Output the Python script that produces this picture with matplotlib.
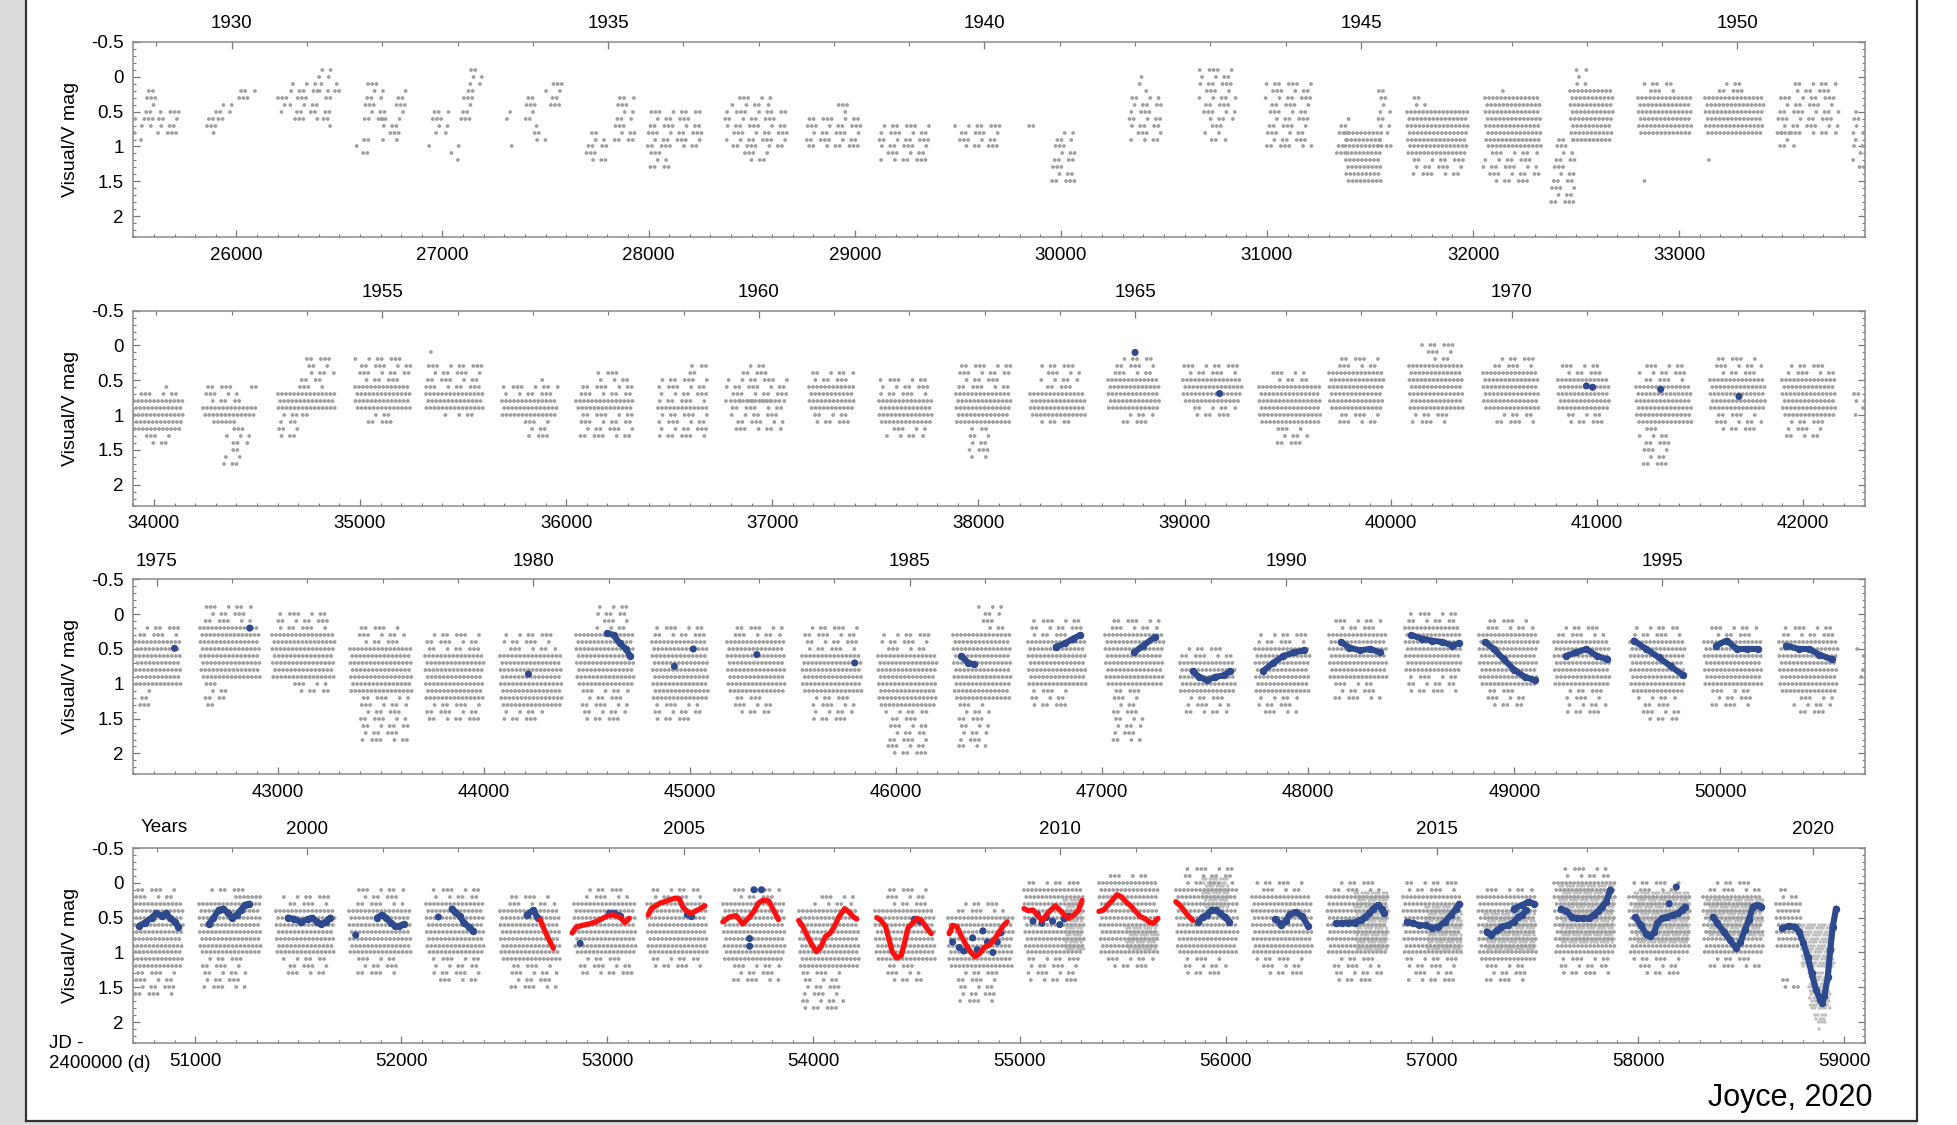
import datetime as dt
import matplotlib
matplotlib.use("Agg")
import matplotlib.pyplot as plt
from matplotlib.ticker import MultipleLocator, FixedLocator
from matplotlib.patches import Rectangle
from matplotlib.lines import Line2D

plt.rcParams.update({
    "font.family": ["Liberation Sans", "DejaVu Sans"],
    "font.size": 13.5,
    "lines.scale_dashes": False,
})

GRAY = "#a0a0a0"
LIGHT = "#c0c0c0"
BLUE = "#2e4a8e"
RED = "#ff1010"

# JD - 2400000 range of each row
PANELS = [(25500, 33900), (33900, 42300), (42300, 50700), (50700, 59100)]

# visual estimates, grouped as (jd start, jd end, brightest row, faintest row, kind)
# kind: 'd' dense rows, 's' sparse rows, 'h' heavy light-gray cloud
GRAY_P1 = [
    (25505, 25545, 0.6, 0.9, 's'), (25545, 25620, 0.2, 0.7, 's'), (25620, 25730, 0.5, 0.8, 's'),
    (25840, 25900, 0.5, 0.8, 's'), (25900, 25990, 0.4, 0.6, 's'), (25990, 26100, 0.2, 0.3, 's'),
    (26204, 26260, 0.3, 0.5, 's'), (26260, 26400, 0.1, 0.6, 's'), (26400, 26460, -0.1, 0.7, 's'),
    (26460, 26503, 0.1, 0.2, 's'),
    (26579, 26650, 0.9, 1.1, 's'), (26620, 26720, 0.1, 0.6, 's'), (26700, 26800, 0.6, 0.9, 's'),
    (26760, 26833, 0.2, 0.5, 's'),
    (26915, 26940, 0.9, 1.1, 's'), (26950, 27030, 0.5, 0.8, 's'), (27040, 27090, 1.0, 1.2, 's'),
    (27090, 27160, 0.3, 0.6, 's'), (27120, 27190, -0.1, 0.2, 's'),
    (27306, 27350, 0.5, 0.6, 's'), (27330, 27340, 1.0, 1.0, 's'), (27400, 27460, 0.3, 0.6, 's'),
    (27440, 27500, 0.7, 0.9, 's'), (27500, 27590, 0.1, 0.4, 's'),
    (27685, 27800, 0.9, 1.2, 's'), (27720, 27760, 0.7, 0.8, 's'), (27830, 27935, 0.3, 0.9, 's'),
    (27990, 28260, 0.5, 1.0, 's'), (27990, 28100, 1.1, 1.3, 's'),
    (28370, 28670, 0.5, 1.0, 's'), (28400, 28600, 0.3, 0.4, 's'), (28450, 28600, 1.1, 1.2, 's'),
    (28760, 29030, 0.6, 1.0, 's'), (28900, 28990, 0.4, 0.5, 's'),
    (29120, 29360, 0.7, 1.2, 's'),
    (29480, 29720, 0.7, 1.0, 's'),
    (29830, 29870, 0.7, 0.7, 's'), (29950, 30070, 0.8, 1.5, 's'),
    (30330, 30490, 0.3, 0.9, 's'), (30380, 30420, 0.0, 0.2, 's'),
    (30670, 30850, -0.1, 0.6, 's'), (30700, 30800, 0.7, 0.9, 's'), (30750, 30760, -0.2, -0.2, 's'),
    (30990, 31220, 0.1, 1.0, 's'),
    (31333, 31400, 0.6, 1.1, 's'), (31380, 31560, 0.8, 1.5, 'd'), (31540, 31600, 0.2, 1.0, 's'),
    (31680, 31975, 0.5, 1.1, 'd'), (31700, 31780, 0.3, 0.4, 's'), (31700, 31970, 1.2, 1.4, 's'),
    (32060, 32330, 0.3, 1.0, 'd'), (32050, 32320, 1.1, 1.5, 's'), (32140, 32160, 0.2, 0.2, 's'),
    (32470, 32680, 0.2, 0.9, 'd'), (32500, 32560, -0.1, 0.1, 's'), (32560, 32570, -0.2, -0.2, 's'),
    (32380, 32500, 0.9, 1.8, 's'),
    (32800, 33063, 0.3, 0.8, 'd'), (32830, 32980, 0.1, 0.2, 's'), (32830, 32850, 1.5, 1.5, 's'),
    (33124, 33410, 0.3, 0.8, 'd'), (33180, 33320, 0.1, 0.2, 's'), (33140, 33150, 1.2, 1.2, 's'),
    (33470, 33776, 0.3, 0.8, 's'), (33560, 33770, 0.1, 0.2, 's'), (33470, 33560, 0.8, 1.0, 's'),
    (33836, 33897, 0.5, 1.3, 's'),
]

GRAY_P2 = [
    (33903, 34141, 0.8, 1.2, 'd'), (33903, 34141, 0.7, 0.7, 's'), (33950, 34100, 1.3, 1.4, 's'),
    (34060, 34110, 0.6, 0.6, 's'), (33905, 33920, 0.5, 0.5, 's'),
    (34240, 34500, 0.9, 1.0, 'd'), (34240, 34420, 0.6, 0.8, 's'), (34290, 34400, 1.1, 1.1, 'd'),
    (34350, 34470, 1.2, 1.4, 's'), (34340, 34420, 1.5, 1.7, 's'), (34470, 34500, 0.6, 0.6, 's'),
    (34600, 34877, 0.7, 0.9, 'd'), (34600, 34700, 1.0, 1.3, 's'), (34690, 34820, 0.5, 0.6, 's'),
    (34740, 34877, 0.2, 0.4, 's'), (34700, 34780, 1.0, 1.0, 's'),
    (34975, 35245, 0.6, 0.9, 'd'), (34975, 35245, 0.2, 0.5, 's'), (35040, 35180, 1.0, 1.1, 's'),
    (35321, 35603, 0.7, 0.9, 'd'), (35321, 35603, 0.3, 0.6, 's'), (35340, 35360, 0.1, 0.2, 's'),
    (35400, 35560, 1.0, 1.0, 's'), (35470, 35490, 1.5, 1.5, 's'),
    (35690, 35960, 0.8, 1.0, 'd'), (35690, 35960, 0.6, 0.7, 's'), (35800, 35940, 1.1, 1.3, 's'),
    (35880, 35900, 0.5, 0.5, 's'),
    (36047, 36328, 0.8, 0.9, 'd'), (36047, 36328, 0.6, 0.7, 's'), (36047, 36328, 1.0, 1.3, 's'),
    (36150, 36300, 0.4, 0.5, 's'),
    (36447, 36700, 0.9, 0.9, 'd'), (36447, 36700, 0.5, 0.8, 's'), (36447, 36700, 1.0, 1.3, 's'),
    (36600, 36680, 0.3, 0.4, 's'),
    (36770, 37070, 0.5, 0.9, 's'), (36800, 37050, 0.8, 0.8, 'd'), (36850, 37000, 0.3, 0.4, 's'),
    (36800, 37050, 1.0, 1.2, 's'),
    (37180, 37400, 0.6, 0.9, 'd'), (37180, 37400, 0.4, 0.5, 's'), (37200, 37380, 1.0, 1.1, 's'),
    (37520, 37780, 0.8, 1.1, 'd'), (37520, 37780, 0.5, 0.7, 's'), (37550, 37750, 1.2, 1.3, 's'),
    (37890, 38160, 0.7, 1.1, 'd'), (37890, 38160, 0.3, 0.6, 's'), (37950, 38050, 1.2, 1.6, 's'),
    (38250, 38520, 0.7, 1.0, 'd'), (38300, 38500, 0.3, 0.6, 's'), (38300, 38450, 1.1, 1.1, 's'),
    (38630, 38880, 0.5, 0.9, 'd'), (38650, 38850, 0.2, 0.4, 's'), (38700, 38850, 1.0, 1.1, 's'),
    (38995, 39280, 0.5, 0.8, 'd'), (38995, 39280, 0.3, 0.4, 's'), (39050, 39250, 0.9, 1.0, 's'),
    (39360, 39660, 0.6, 1.1, 'd'), (39400, 39600, 0.4, 0.5, 's'), (39450, 39600, 1.2, 1.4, 's'),
    (39700, 39970, 0.4, 0.9, 'd'), (39750, 39950, 0.2, 0.3, 's'), (39750, 39950, 1.0, 1.1, 's'),
    (40090, 40350, 0.3, 0.9, 'd'), (40150, 40320, 0.0, 0.2, 's'), (40100, 40300, 1.0, 1.1, 's'),
    (40450, 40720, 0.4, 0.9, 'd'), (40480, 40700, 0.2, 0.3, 's'), (40500, 40700, 1.0, 1.1, 's'),
    (40810, 41060, 0.5, 0.9, 'd'), (40830, 41050, 0.3, 0.4, 's'), (40850, 41050, 1.0, 1.1, 's'),
    (41190, 41460, 0.6, 1.1, 'd'), (41200, 41450, 0.3, 0.5, 's'), (41200, 41350, 1.2, 1.7, 's'),
    (41550, 41820, 0.5, 0.9, 'd'), (41580, 41800, 0.2, 0.4, 's'), (41580, 41800, 1.0, 1.2, 's'),
    (41900, 42160, 0.5, 1.0, 'd'), (41920, 42150, 0.3, 0.4, 's'), (41920, 42100, 1.1, 1.3, 's'),
    (42250, 42300, 0.7, 1.0, 's'),
]

GRAY_P3 = [
    (42308, 42532, 0.4, 1.0, 'd'), (42308, 42532, 0.2, 0.3, 's'), (42330, 42400, 1.1, 1.3, 's'),
    (42623, 42914, 0.2, 0.9, 'd'), (42650, 42880, -0.1, 0.1, 's'), (42650, 42750, 1.0, 1.3, 's'),
    (42975, 43277, 0.3, 0.9, 'd'), (43000, 43250, 0.0, 0.2, 's'), (43050, 43250, 1.0, 1.1, 's'),
    (43350, 43650, 0.5, 1.1, 'd'), (43380, 43620, 0.2, 0.4, 's'), (43400, 43640, 1.2, 1.8, 's'),
    (43713, 44000, 0.6, 1.2, 'd'), (43720, 43980, 0.3, 0.5, 's'), (43720, 43980, 1.3, 1.5, 's'),
    (44077, 44380, 0.6, 1.3, 'd'), (44100, 44350, 0.3, 0.5, 's'), (44100, 44300, 1.4, 1.5, 's'),
    (44450, 44730, 0.3, 1.0, 'd'), (44550, 44700, -0.1, 0.2, 's'), (44470, 44700, 1.1, 1.5, 's'),
    (44815, 45090, 0.4, 1.2, 'd'), (44830, 45080, 0.2, 0.3, 's'), (44830, 45050, 1.3, 1.5, 's'),
    (45180, 45460, 0.4, 1.1, 'd'), (45200, 45450, 0.2, 0.3, 's'), (45200, 45400, 1.2, 1.4, 's'),
    (45545, 45836, 0.6, 1.1, 'd'), (45560, 45820, 0.2, 0.5, 's'), (45600, 45800, 1.2, 1.5, 's'),
    (45913, 46198, 0.6, 1.3, 'd'), (45930, 46180, 0.3, 0.5, 's'), (45950, 46150, 1.4, 2.0, 's'),
    (46275, 46560, 0.3, 1.2, 'd'), (46400, 46520, -0.1, 0.2, 's'), (46300, 46450, 1.3, 1.9, 's'),
    (46640, 46920, 0.4, 1.0, 'd'), (46660, 46900, 0.1, 0.3, 's'), (46660, 46850, 1.1, 1.3, 's'),
    (47013, 47300, 0.3, 1.0, 'd'), (47030, 47280, 0.1, 0.2, 's'), (47050, 47200, 1.1, 1.8, 's'),
    (47377, 47650, 0.7, 1.1, 'd'), (47390, 47630, 0.5, 0.6, 's'), (47400, 47620, 1.2, 1.4, 's'),
    (47740, 48010, 0.5, 1.1, 'd'), (47760, 47990, 0.3, 0.4, 's'), (47760, 47950, 1.2, 1.4, 's'),
    (48100, 48380, 0.3, 0.9, 'd'), (48120, 48360, 0.1, 0.2, 's'), (48120, 48350, 1.0, 1.2, 's'),
    (48470, 48740, 0.2, 0.8, 'd'), (48490, 48720, 0.0, 0.1, 's'), (48490, 48720, 0.9, 1.1, 's'),
    (48830, 49115, 0.3, 1.0, 'd'), (48850, 49090, 0.1, 0.2, 's'), (48850, 49050, 1.1, 1.3, 's'),
    (49195, 49465, 0.4, 1.0, 'd'), (49210, 49450, 0.2, 0.3, 's'), (49250, 49450, 1.1, 1.4, 's'),
    (49560, 49830, 0.4, 1.1, 'd'), (49580, 49810, 0.2, 0.3, 's'), (49600, 49800, 1.2, 1.5, 's'),
    (49920, 50200, 0.4, 1.0, 'd'), (49940, 50180, 0.2, 0.3, 's'), (49950, 50150, 1.1, 1.3, 's'),
    (50285, 50570, 0.4, 1.1, 'd'), (50300, 50550, 0.2, 0.3, 's'), (50350, 50550, 1.2, 1.4, 's'),
    (50665, 50700, 0.5, 1.0, 's'),
]

GRAY_P4 = [
    (50692, 50941, 0.3, 1.2, 'd'), (50700, 50900, 0.1, 0.2, 's'), (50700, 50900, 1.3, 1.6, 's'),
    (51017, 51320, 0.3, 1.0, 'd'), (51200, 51320, 0.2, 0.2, 'd'), (51050, 51250, 0.1, 0.1, 's'),
    (51030, 51250, 1.1, 1.5, 's'),
    (51391, 51677, 0.4, 1.0, 'd'), (51420, 51660, 0.2, 0.3, 's'), (51420, 51640, 1.1, 1.3, 's'),
    (51746, 52045, 0.4, 1.0, 'd'), (51780, 52020, 0.1, 0.3, 's'), (51780, 52000, 1.1, 1.3, 's'),
    (52121, 52403, 0.3, 1.0, 'd'), (52150, 52380, 0.1, 0.2, 's'), (52150, 52380, 1.1, 1.4, 's'),
    (52478, 52771, 0.4, 1.1, 'd'), (52500, 52750, 0.2, 0.3, 's'), (52520, 52760, 1.2, 1.5, 's'),
    (52836, 53139, 0.3, 1.0, 'd'), (52880, 53100, 0.1, 0.2, 's'), (52860, 53120, 1.1, 1.3, 's'),
    (53191, 53484, 0.3, 1.0, 'd'), (53220, 53460, 0.1, 0.2, 's'), (53220, 53460, 1.1, 1.2, 's'),
    (53560, 53863, 0.3, 1.1, 'd'), (53600, 53840, 0.1, 0.2, 's'), (53600, 53840, 1.2, 1.4, 's'),
    (53928, 54220, 0.4, 1.2, 'd'), (54000, 54200, 0.2, 0.3, 's'), (53950, 54150, 1.3, 1.8, 's'),
    (54296, 54588, 0.4, 1.1, 'd'), (54330, 54560, 0.1, 0.3, 's'), (54330, 54520, 1.2, 1.4, 's'),
    (54653, 54967, 0.5, 1.2, 'd'), (54700, 54940, 0.3, 0.4, 's'), (54700, 54900, 1.3, 1.7, 's'),
    (55021, 55314, 0.1, 1.0, 'd'), (55040, 55300, 0.0, 0.0, 's'), (55040, 55300, 1.1, 1.4, 's'),
    (55385, 55671, 0.0, 1.0, 'd'), (55420, 55640, -0.1, -0.1, 's'), (55400, 55650, 1.1, 1.2, 's'),
    (55758, 56061, 0.1, 1.0, 'd'), (55800, 56040, -0.2, 0.0, 's'), (55800, 56000, 1.1, 1.3, 's'),
    (56126, 56420, 0.2, 1.0, 'd'), (56150, 56400, 0.0, 0.1, 's'), (56150, 56400, 1.1, 1.3, 's'),
    (56492, 56787, 0.2, 1.0, 'd'), (56520, 56760, 0.0, 0.1, 's'), (56520, 56760, 1.1, 1.4, 's'),
    (56859, 57144, 0.2, 1.0, 'd'), (56880, 57120, 0.0, 0.1, 's'), (56880, 57120, 1.1, 1.4, 's'),
    (57225, 57510, 0.2, 1.1, 'd'), (57250, 57490, 0.1, 0.1, 's'), (57250, 57450, 1.2, 1.4, 's'),
    (57591, 57887, 0.0, 1.0, 'd'), (57640, 57860, -0.2, -0.1, 's'), (57620, 57860, 1.1, 1.3, 's'),
    (57958, 58253, 0.2, 1.0, 'd'), (57980, 58230, 0.0, 0.1, 's'), (57980, 58230, 1.1, 1.3, 's'),
    (58314, 58609, 0.2, 1.0, 'd'), (58340, 58590, 0.0, 0.1, 's'), (58340, 58590, 1.1, 1.2, 's'),
    (58670, 58790, 0.3, 0.9, 'd'), (58680, 58780, 0.1, 0.2, 's'), (58700, 58780, 1.4, 1.5, 's'),
    (55216, 55314, 0.25, 0.95, 'h'), (55520, 55670, 0.65, 0.95, 'h'), (55888, 56017, -0.05, 0.35, 'h'),
    (56625, 56787, 0.15, 0.95, 'h'), (56971, 57144, 0.35, 0.95, 'h'), (57256, 57500, 0.45, 0.95, 'h'),
    (57622, 57887, 0.05, 0.85, 'h'), (57988, 58253, 0.15, 0.85, 'h'), (58334, 58609, 0.25, 0.75, 'h'),
    (58790, 58950, 0.6, 1.2, 'h'), (58830, 58930, 1.3, 1.8, 'h'), (58860, 58910, 1.9, 2.0, 'h'),
    (58880, 58890, 2.1, 2.1, 'h'),
]

# photoelectric V curves (blue) and the second V series (red)
BLUE_CURVES = [
    [(44600, 0.27), (44630, 0.30), (44660, 0.42), (44690, 0.50), (44710, 0.60)],
    [(46318, 0.60), (46350, 0.70), (46380, 0.72)],
    [(46775, 0.47), (46820, 0.42), (46860, 0.35), (46895, 0.30)],
    [(47155, 0.55), (47200, 0.45), (47255, 0.33)],
    [(47440, 0.82), (47470, 0.90), (47510, 0.95), (47550, 0.90), (47590, 0.88), (47620, 0.82)],
    [(47780, 0.82), (47830, 0.70), (47880, 0.60), (47930, 0.55), (47980, 0.52)],
    [(48160, 0.40), (48200, 0.48), (48250, 0.52), (48300, 0.50), (48350, 0.55)],
    [(48500, 0.30), (48550, 0.35), (48600, 0.38), (48650, 0.40), (48700, 0.45), (48730, 0.42)],
    [(48860, 0.40), (48900, 0.50), (48950, 0.65), (49000, 0.80), (49050, 0.90), (49100, 0.95)],
    [(49250, 0.60), (49300, 0.55), (49350, 0.50), (49400, 0.60), (49450, 0.65)],
    [(49580, 0.38), (49640, 0.50), (49700, 0.62), (49760, 0.75), (49820, 0.88)],
    [(49980, 0.45), (50030, 0.38), (50080, 0.50), (50130, 0.50), (50180, 0.50)],
    [(50320, 0.45), (50380, 0.50), (50430, 0.50), (50480, 0.58), (50540, 0.65)],
    [(50729, 0.62), (50757, 0.57), (50789, 0.50), (50811, 0.44), (50837, 0.47), (50859, 0.44),
     (50876, 0.50), (50902, 0.56), (50919, 0.63)],
    [(51066, 0.59), (51088, 0.51), (51114, 0.39), (51136, 0.37), (51158, 0.43), (51179, 0.50),
     (51201, 0.46), (51222, 0.39), (51240, 0.32), (51261, 0.30)],
    [(51450, 0.50), (51482, 0.52), (51515, 0.56), (51547, 0.52), (51569, 0.50), (51591, 0.56),
     (51612, 0.59), (51634, 0.56), (51656, 0.50)],
    [(51883, 0.50), (51905, 0.46), (51926, 0.50), (51948, 0.57), (51970, 0.62), (51991, 0.62),
     (52013, 0.59)],
    [(52245, 0.37), (52262, 0.42), (52284, 0.48), (52305, 0.58), (52327, 0.63), (52349, 0.69)],
    [(52608, 0.46), (52641, 0.39), (52663, 0.51)],
    [(53009, 0.43), (53031, 0.44), (53063, 0.47)],
    [(53386, 0.45), (53408, 0.48)],
    [(54490, 0.52), (54515, 0.55)],
    [(55866, 0.56), (55888, 0.49), (55909, 0.46), (55931, 0.39), (55952, 0.39), (55974, 0.44),
     (55996, 0.49), (56017, 0.56)],
    [(56240, 0.52), (56270, 0.60), (56290, 0.55), (56310, 0.45), (56340, 0.42), (56370, 0.48),
     (56400, 0.62)],
    [(56533, 0.58), (56564, 0.58), (56594, 0.57), (56625, 0.57), (56655, 0.53), (56676, 0.49),
     (56696, 0.44), (56716, 0.37), (56737, 0.32), (56757, 0.37), (56767, 0.44)],
    [(56879, 0.56), (56910, 0.58), (56940, 0.61), (56971, 0.61), (57001, 0.65), (57032, 0.63),
     (57062, 0.56), (57093, 0.46), (57117, 0.37), (57133, 0.30)],
    [(57266, 0.70), (57286, 0.75), (57317, 0.68), (57337, 0.63), (57368, 0.61), (57398, 0.56),
     (57418, 0.49), (57439, 0.46), (57459, 0.39)],
    [(57398, 0.37), (57439, 0.32), (57469, 0.27), (57496, 0.30)],
    [(57626, 0.37), (57653, 0.41), (57679, 0.49), (57703, 0.51), (57734, 0.51), (57764, 0.51),
     (57785, 0.46), (57805, 0.41), (57826, 0.34), (57846, 0.27), (57866, 0.10)],
    [(57988, 0.49), (58013, 0.61), (58039, 0.73), (58060, 0.77), (58080, 0.70), (58094, 0.58),
     (58115, 0.51), (58141, 0.49), (58172, 0.46), (58192, 0.44), (58212, 0.39), (58229, 0.34)],
    [(58365, 0.49), (58385, 0.58), (58416, 0.70), (58446, 0.82), (58477, 0.94), (58497, 0.85),
     (58518, 0.68), (58538, 0.53), (58558, 0.34), (58579, 0.32), (58599, 0.34)],
    [(58701, 0.65), (58731, 0.62), (58762, 0.63), (58782, 0.70), (58803, 0.87), (58823, 1.06),
     (58843, 1.30), (58864, 1.54), (58884, 1.68), (58894, 1.73), (58904, 1.63), (58921, 1.35),
     (58933, 0.96), (58945, 0.63), (58961, 0.37)],
]

BLUE_DOTS = [
    (38760, 0.10), (39170, 0.69), (40950, 0.58), (40980, 0.60), (41310, 0.63), (41690, 0.73),
    (42500, 0.49), (42865, 0.20), (44217, 0.86), (44925, 0.75), (45017, 0.50), (45325, 0.58),
    (45800, 0.70),
    (51779, 0.75), (52180, 0.49), (52868, 0.87), (53711, 0.10), (53748, 0.10), (53690, 0.80),
    (53690, 0.91), (58151, 0.30), (58186, 0.06),
    (54675, 0.85), (54707, 0.93), (54729, 0.98), (54772, 0.79), (54794, 0.96), (54822, 0.69),
    (54844, 0.85), (54870, 1.00), (54892, 0.85), (54909, 0.72),
    (55065, 0.55), (55086, 0.45), (55108, 0.58), (55130, 0.50), (55160, 0.55), (55195, 0.60),
    (55216, 0.52), (55238, 0.48),
]

RED_CURVES = [
    [(52674, 0.53), (52695, 0.68), (52717, 0.82), (52738, 0.94)],
    [(52829, 0.72), (52847, 0.64), (52879, 0.61), (52912, 0.59), (52944, 0.56), (52977, 0.51),
     (53003, 0.47), (53031, 0.46), (53063, 0.50), (53085, 0.57), (53106, 0.51)],
    [(53198, 0.46), (53213, 0.37), (53235, 0.33), (53256, 0.29), (53278, 0.27), (53306, 0.24),
     (53328, 0.22), (53349, 0.23), (53365, 0.34), (53386, 0.41), (53408, 0.44), (53430, 0.40),
     (53451, 0.37), (53473, 0.33)],
    [(53560, 0.56), (53592, 0.49), (53625, 0.47), (53657, 0.59), (53690, 0.49), (53711, 0.41),
     (53733, 0.29), (53754, 0.25), (53783, 0.26), (53809, 0.41), (53830, 0.53)],
    [(53928, 0.54), (53949, 0.63), (53971, 0.77), (53993, 0.89), (54014, 0.99), (54036, 0.92),
     (54058, 0.77), (54079, 0.73), (54101, 0.63), (54123, 0.49), (54151, 0.37), (54172, 0.42),
     (54194, 0.49), (54209, 0.52)],
    [(54307, 0.50), (54328, 0.54), (54350, 0.63), (54367, 0.82), (54382, 0.99), (54404, 1.08),
     (54426, 1.04), (54441, 0.87), (54458, 0.65), (54480, 0.58), (54502, 0.51), (54523, 0.54),
     (54545, 0.63), (54571, 0.73)],
    [(54658, 0.73), (54675, 0.61), (54696, 0.63), (54718, 0.77), (54740, 0.89), (54761, 0.99),
     (54783, 1.06), (54805, 1.02), (54831, 0.92), (54852, 0.90), (54874, 0.82), (54896, 0.73),
     (54917, 0.63), (54939, 0.56)],
    [(55021, 0.37), (55043, 0.40), (55065, 0.39), (55086, 0.46), (55108, 0.54), (55130, 0.46),
     (55151, 0.39), (55173, 0.33), (55195, 0.39), (55216, 0.46), (55238, 0.51), (55264, 0.46),
     (55286, 0.39), (55303, 0.25)],
    [(55385, 0.41), (55407, 0.39), (55428, 0.32), (55450, 0.25), (55472, 0.17), (55493, 0.20),
     (55515, 0.27), (55541, 0.34), (55563, 0.41), (55584, 0.48), (55610, 0.52), (55632, 0.57),
     (55649, 0.58), (55671, 0.51)],
    [(55758, 0.27), (55780, 0.33), (55801, 0.41), (55823, 0.49), (55840, 0.54)],
]

YTICKS = [-0.5, 0, 0.5, 1, 1.5, 2]
YTICKLABELS = ["-0.5", "0", "0.5", "1", "1.5", "2"]

W, H = 1958, 1125
fig = plt.figure(figsize=(W / 100, H / 100), dpi=100)

# grey margin and frame, as in the screenshot
fig.patches.append(Rectangle((0, 0), 26 / W, 1, transform=fig.transFigure,
                             facecolor="#dcdcdc", edgecolor="none", zorder=0))
fig.patches.append(Rectangle((0, 0), 1917 / W, 4 / H, transform=fig.transFigure,
                             facecolor="#dcdcdc", edgecolor="none", zorder=0))
for xs, ys in [([26 / W, 26 / W], [4 / H, 1]), ([1917 / W, 1917 / W], [4 / H, 1]),
               ([26 / W, 1917 / W], [4 / H, 4 / H])]:
    fig.lines.append(Line2D(xs, ys, transform=fig.transFigure, color="#333333", lw=1.6))


def jd_of_year(y):
    return (dt.date(y, 1, 1) - dt.date(1858, 11, 17)).days + 0.5


# dot patterns (points): dense rows nearly touch, sparse rows come in small clumps
DOT = 0.001
DENSE = (DOT, 2.9)
SPARSE = (DOT, 3.0, DOT, 7.0, DOT, 3.0, DOT, 3.0, DOT, 10.0, DOT, 6.0)
HEAVY = (DOT, 2.0, DOT, 3.2, DOT, 2.4)


def draw_rows(ax, blocks):
    for jd0, jd1, top, bot, kind in blocks:
        if kind == 'h':
            step, color, lw, pat = 0.05, LIGHT, 2.6, HEAVY
        elif kind == 'd':
            step, color, lw, pat = 0.1, GRAY, 2.8, DENSE
        else:
            step, color, lw, pat = 0.1, GRAY, 2.8, SPARSE
        n = int(round((bot - top) / step)) + 1
        period = sum(pat)
        for i in range(n):
            m = round(top + step * i, 3)
            if kind == 's':
                phase = (i * 11.3 + jd0 * 0.07) % period
            else:
                phase = (i * 1.3) % period
            ax.plot([jd0, jd1], [m, m], color=color, lw=lw,
                    linestyle=(phase, pat), dash_capstyle="round",
                    zorder=1.9 if kind == 'h' else 2)


GRAY_ALL = [GRAY_P1, GRAY_P2, GRAY_P3, GRAY_P4]

ax_h = 195 / H
left = 133.3 / W
width = 1731.4 / W
for k, (x0, x1) in enumerate(PANELS):
    top_px = 42 + 268.67 * k
    ax = fig.add_axes([left, 1 - (top_px + 195) / H, width, ax_h])
    ax.set_xlim(x0, x1)
    ax.set_ylim(2.3, -0.5)

    draw_rows(ax, GRAY_ALL[k])

    for curve in BLUE_CURVES:
        if x0 <= curve[0][0] < x1:
            xs = [p[0] for p in curve]
            ys = [p[1] for p in curve]
            ax.plot(xs, ys, color=BLUE, lw=4.4, marker="o", ms=5.4, mec="none",
                    solid_capstyle="round", solid_joinstyle="round", zorder=4)
    for curve in RED_CURVES:
        if x0 <= curve[0][0] < x1:
            xs = [p[0] for p in curve]
            ys = [p[1] for p in curve]
            ax.plot(xs, ys, color=RED, lw=3.8, solid_capstyle="round",
                    solid_joinstyle="round", zorder=5)
    dots = [p for p in BLUE_DOTS if x0 <= p[0] < x1]
    if dots:
        ax.scatter([p[0] for p in dots], [p[1] for p in dots], s=26, color=BLUE,
                   edgecolors="none", zorder=4)

    ax.xaxis.set_major_locator(MultipleLocator(1000))
    ax.xaxis.set_minor_locator(MultipleLocator(100))
    ax.yaxis.set_major_locator(FixedLocator(YTICKS))
    ax.set_yticklabels(YTICKLABELS)
    ax.yaxis.set_minor_locator(MultipleLocator(0.1))
    ax.tick_params(which="both", direction="in", left=True, right=True, top=False,
                   bottom=True, color="#777777", pad=7, labelsize=13.5)
    ax.tick_params(which="major", length=5, width=0.9)
    ax.tick_params(which="minor", length=2.5, width=0.8)
    for sp in ax.spines.values():
        sp.set_color("#8a8a8a")
        sp.set_linewidth(1.1)

    yr = ax.twiny()
    yr.set_xlim(x0, x1)
    years = list(range(1920, 2026))
    major = [y for y in years if y % 5 == 0]
    yr.xaxis.set_major_locator(FixedLocator([jd_of_year(y) for y in major]))
    yr.set_xticklabels([str(y) for y in major])
    yr.xaxis.set_minor_locator(FixedLocator([jd_of_year(y) for y in years]))
    yr.tick_params(which="both", direction="in", color="#777777", pad=7, labelsize=13.5)
    yr.tick_params(which="major", length=5, width=0.9)
    yr.tick_params(which="minor", length=3, width=0.8)
    for sp in yr.spines.values():
        sp.set_visible(False)

    fig.text(71 / W, 1 - (top_px + 97.5) / H, "Visual/V mag", rotation=90,
             ha="center", va="center", fontsize=14)

fig.text(141 / W, 1 - 827 / H, "Years", ha="left", va="center", fontsize=13.5)
fig.text(49 / W, 1 - 1044 / H, "JD -", ha="left", va="center", fontsize=13.5)
fig.text(49 / W, 1 - 1063 / H, "2400000 (d)", ha="left", va="center", fontsize=13.5)
fig.text(1873 / W, 1 - 1098 / H, "Joyce, 2020", ha="right", va="center", fontsize=22)

fig.savefig("out.png", dpi=100)
